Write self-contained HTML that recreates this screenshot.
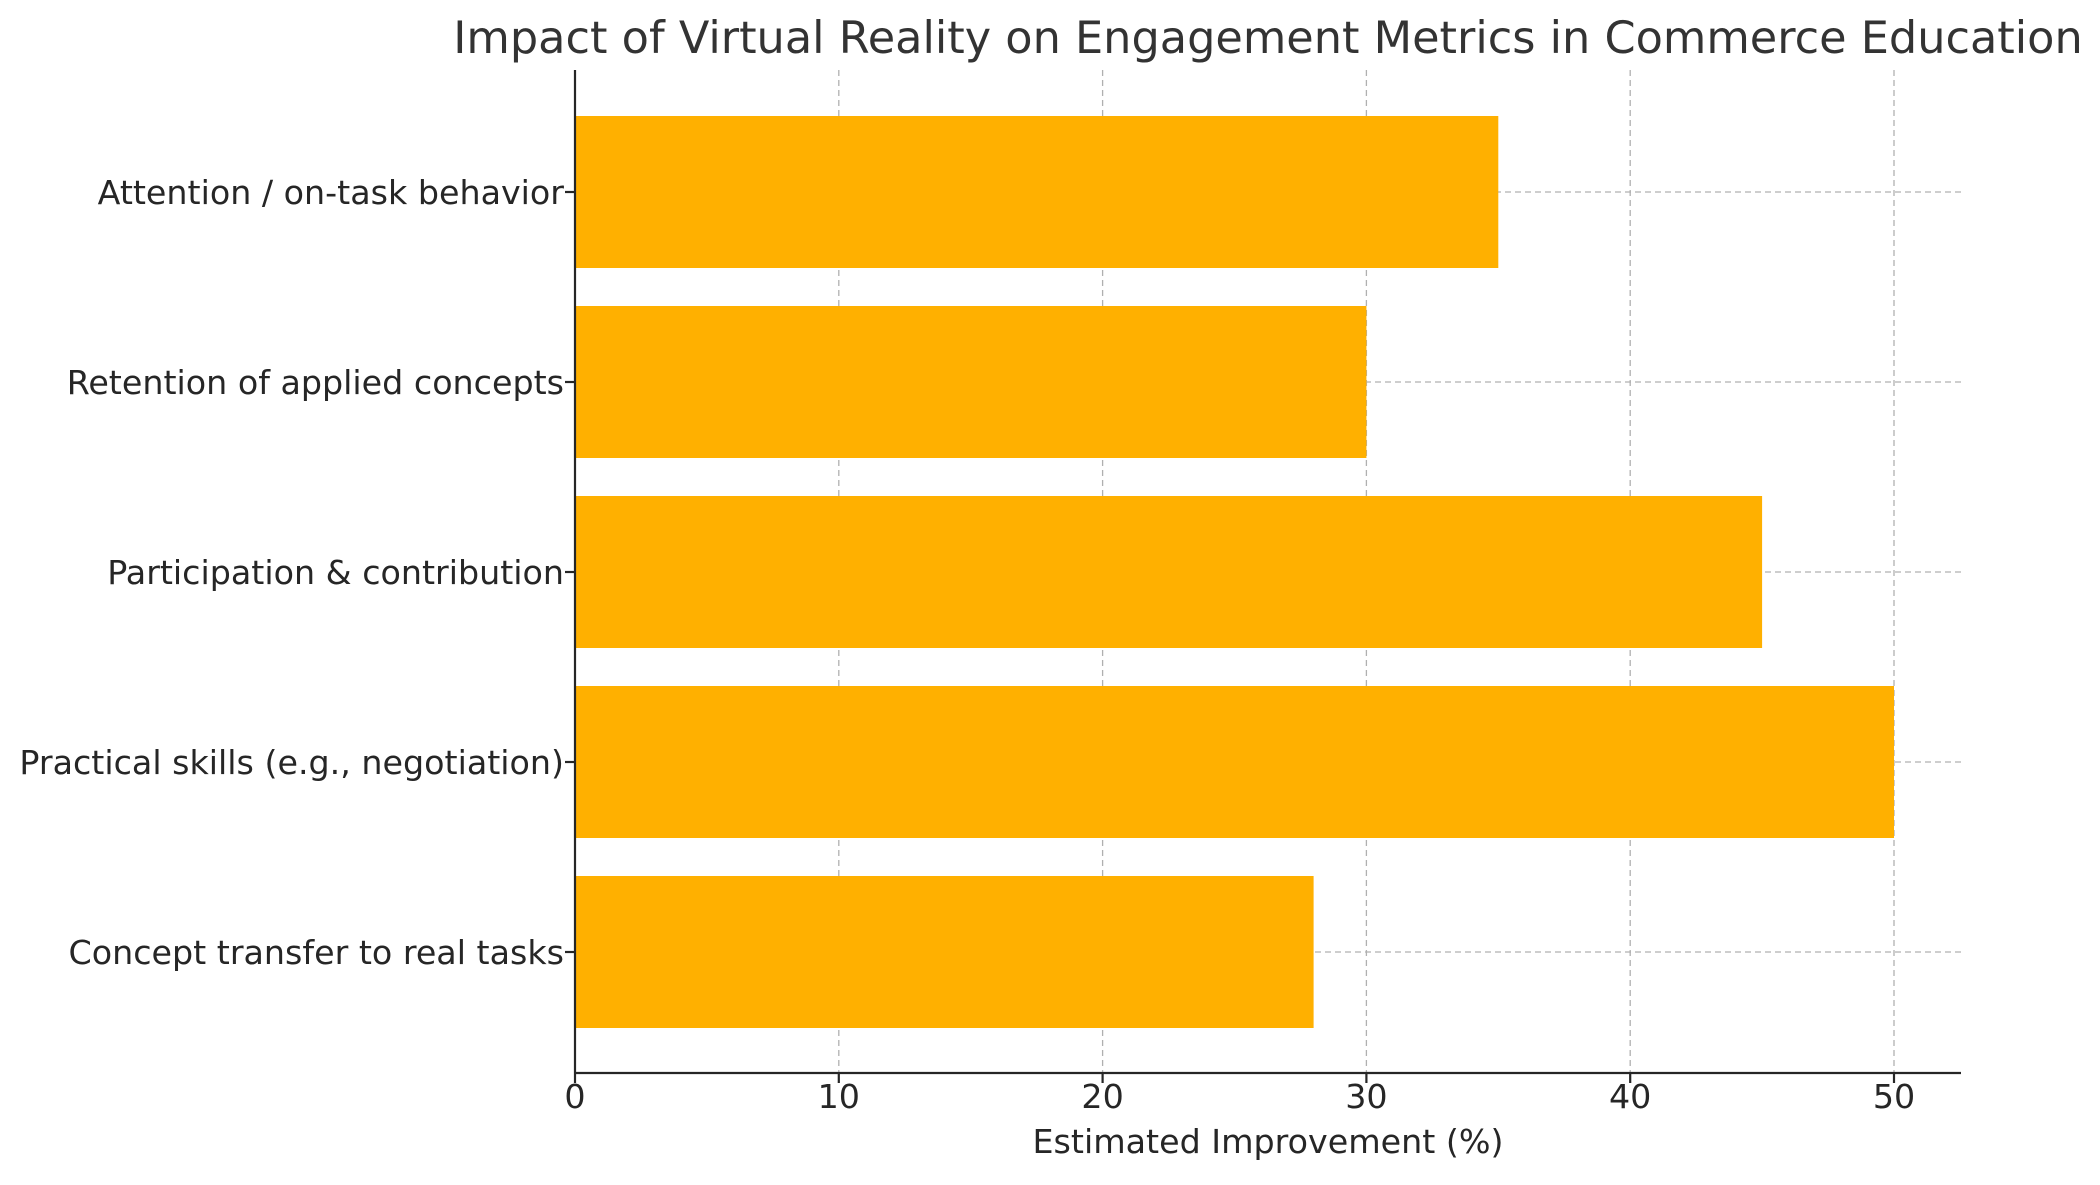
<!DOCTYPE html>
<html><head><meta charset="utf-8"><style>body{margin:0;background:#fff}</style></head><body>
<svg width="2100" height="1180" xmlns="http://www.w3.org/2000/svg" font-family="DejaVu Sans, Liberation Sans, sans-serif">
<rect width="2100" height="1180" fill="#fff"/>
<g stroke="#b0b0b0" stroke-width="1.3" stroke-dasharray="6,4">
<line x1="838.8" y1="70" x2="838.8" y2="1073"/>
<line x1="1102.6" y1="70" x2="1102.6" y2="1073"/>
<line x1="1366.4" y1="70" x2="1366.4" y2="1073"/>
<line x1="1630.2" y1="70" x2="1630.2" y2="1073"/>
<line x1="1894" y1="70" x2="1894" y2="1073"/>
<line x1="575" y1="192" x2="1961" y2="192"/>
<line x1="575" y1="382" x2="1961" y2="382"/>
<line x1="575" y1="572" x2="1961" y2="572"/>
<line x1="575" y1="762" x2="1961" y2="762"/>
<line x1="575" y1="952" x2="1961" y2="952"/>
</g>
<g fill="#ffb000">
<rect x="575" y="116" width="923.3" height="152"/>
<rect x="575" y="306" width="791.4" height="152"/>
<rect x="575" y="496" width="1187.1" height="152"/>
<rect x="575" y="686" width="1319" height="152"/>
<rect x="575" y="876" width="738.6" height="152"/>
</g>
<g stroke="#262626" stroke-width="2.2">
<line x1="575" y1="70" x2="575" y2="1073"/>
<line x1="575" y1="1073" x2="1961" y2="1073"/>
<line x1="565" y1="192" x2="575" y2="192"/><line x1="565" y1="382" x2="575" y2="382"/><line x1="565" y1="572" x2="575" y2="572"/><line x1="565" y1="762" x2="575" y2="762"/><line x1="565" y1="952" x2="575" y2="952"/>
<line x1="575" y1="1073" x2="575" y2="1083"/><line x1="838.8" y1="1073" x2="838.8" y2="1083"/><line x1="1102.6" y1="1073" x2="1102.6" y2="1083"/><line x1="1366.4" y1="1073" x2="1366.4" y2="1083"/><line x1="1630.2" y1="1073" x2="1630.2" y2="1083"/><line x1="1894" y1="1073" x2="1894" y2="1083"/>
</g>
<g fill="#262626" font-size="33.3" text-anchor="end">
<text x="564" y="204">Attention / on-task behavior</text>
<text x="564" y="394">Retention of applied concepts</text>
<text x="564" y="584">Participation &amp; contribution</text>
<text x="564" y="774">Practical skills (e.g., negotiation)</text>
<text x="564" y="964">Concept transfer to real tasks</text>
</g>
<g fill="#262626" font-size="33.3" text-anchor="middle">
<text x="575" y="1108">0</text><text x="838.8" y="1108">10</text><text x="1102.6" y="1108">20</text><text x="1366.4" y="1108">30</text><text x="1630.2" y="1108">40</text><text x="1894" y="1108">50</text>
<text x="1268" y="1153">Estimated Improvement (%)</text>
</g>
<text x="1268" y="53" font-size="44.6" fill="#333" text-anchor="middle">Impact of Virtual Reality on Engagement Metrics in Commerce Education</text>
</svg>
</body></html>
